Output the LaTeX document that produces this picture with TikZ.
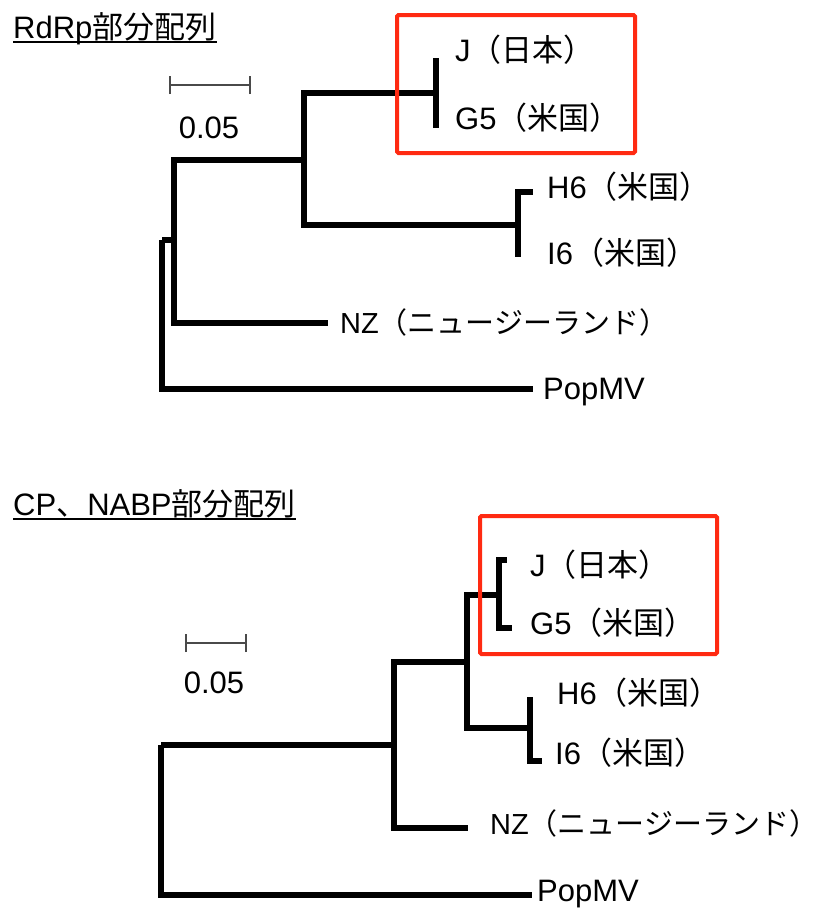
\documentclass[tikz,border=0pt]{standalone}
\usepackage{fontspec}
\setmainfont{Liberation Sans}
\newfontfamily\jp{Noto Sans CJK JP}
\definecolor{boxred}{HTML}{FF2A12}
\definecolor{bargray}{HTML}{4A4A4A}
\begin{document}
\begin{tikzpicture}[x=1pt,y=-1pt,
  branch/.style={line width=6pt, black},
  hibox/.style={draw=boxred, line width=4pt, rounded corners=1.5pt},
  scalebar/.style={draw=bargray, line width=1.8pt},
  lab/.style={anchor=west, inner sep=0pt, font=\fontsize{31}{33}\selectfont},
  nzlab/.style={anchor=west, inner sep=0pt, font=\fontsize{29}{31}\selectfont},
  ttl/.style={anchor=base west, inner sep=0pt, font=\fontsize{31}{33}\selectfont},
  scl/.style={anchor=center, inner sep=0pt, font=\fontsize{31}{33}\selectfont}]
\useasboundingbox (0,0) rectangle (827,916);

% ---------- Top tree: RdRp ----------
\node[ttl] (t1) at (13,38) {RdRp{\jp 部分配列}};
\draw[line width=1.5pt] (t1.base west) ++(0,4) coordinate (u1a) -- (t1.base east |- u1a) coordinate (u1b);

\coordinate (s1a) at (170,85);
\coordinate (s1b) at (250,85);
\draw[scalebar] (s1a) -- (s1b);
\draw[scalebar] ([yshift=-9]s1a) -- ([yshift=9]s1a);
\draw[scalebar] ([yshift=-9]s1b) -- ([yshift=9]s1b);
\node[scl] (s1l) at (209,128) {0.05};

\coordinate (R1) at (162,240);
\coordinate (B1) at (174,240);
\coordinate (C1) at (304,160);
\coordinate (D1) at (436,93);
\coordinate (E1) at (518,225);
\coordinate (J1) at (436,58);
\coordinate (G1) at (436,128);
\coordinate (H1) at (533,192);
\coordinate (I1) at (518,257);
\coordinate (N1) at (328,323);
\coordinate (P1) at (533,389);

\draw[branch] (R1) |- (B1);
\draw[branch] (R1) |- (P1);
\draw[branch] (B1) |- (C1);
\draw[branch] (B1) |- (N1);
\draw[branch] (C1) |- (D1);
\draw[branch] (C1) |- (E1);
\draw[branch] (D1) |- (J1);
\draw[branch] (D1) |- (G1);
\draw[branch] (E1) |- (H1);
\draw[branch] (E1) |- (I1);

\node[lab] (lJ1) at (455,50) {J{\jp （日本）}};
\node[lab] (lG1) at (455,118) {G5{\jp （米国）}};
\node[lab] (lH1) at (547,187) {H6{\jp （米国）}};
\node[lab] (lI1) at (547,253) {I6{\jp （米国）}};
\node[nzlab] (lN1) at (340,322) {NZ{\jp （ニュージーランド）}};
\node[lab] (lP1) at (543,392) {PopMV};

\draw[hibox] (397,15) rectangle (635,153);

% ---------- Bottom tree: CP, NABP ----------
\node[ttl] (t2) at (13,515) {CP{\jp 、}NABP{\jp 部分配列}};
\draw[line width=1.5pt] (t2.base west) ++(0,4) coordinate (u2a) -- (t2.base east |- u2a) coordinate (u2b);

\coordinate (s2a) at (186,643);
\coordinate (s2b) at (246,643);
\draw[scalebar] (s2a) -- (s2b);
\draw[scalebar] ([yshift=-9]s2a) -- ([yshift=9]s2a);
\draw[scalebar] ([yshift=-9]s2b) -- ([yshift=9]s2b);
\node[scl] (s2l) at (214,683) {0.05};

\coordinate (R2) at (161,745);
\coordinate (B2) at (394,745);
\coordinate (C2) at (467,662);
\coordinate (D2) at (499,595);
\coordinate (E2) at (530,728);
\coordinate (J2) at (507,560);
\coordinate (G2) at (512,628);
\coordinate (H2) at (530,697);
\coordinate (I2) at (542,761);
\coordinate (N2) at (468,828);
\coordinate (P2) at (532,895);

\draw[branch] (R2) |- (B2);
\draw[branch] (R2) |- (P2);
\draw[branch] (B2) |- (C2);
\draw[branch] (B2) |- (N2);
\draw[branch] (C2) |- (D2);
\draw[branch] (C2) |- (E2);
\draw[branch] (D2) |- (J2);
\draw[branch] (D2) |- (G2);
\draw[branch] (E2) |- (H2);
\draw[branch] (E2) |- (I2);

\node[lab] (lJ2) at (530,565) {J{\jp （日本）}};
\node[lab] (lG2) at (530,623) {G5{\jp （米国）}};
\node[lab] (lH2) at (557,693) {H6{\jp （米国）}};
\node[lab] (lI2) at (555,753) {I6{\jp （米国）}};
\node[nzlab] (lN2) at (490,823) {NZ{\jp （ニュージーランド）}};
\node[lab] (lP2) at (537,894) {PopMV};

\draw[hibox] (480,516) rectangle (717,654);
\end{tikzpicture}
\end{document}
